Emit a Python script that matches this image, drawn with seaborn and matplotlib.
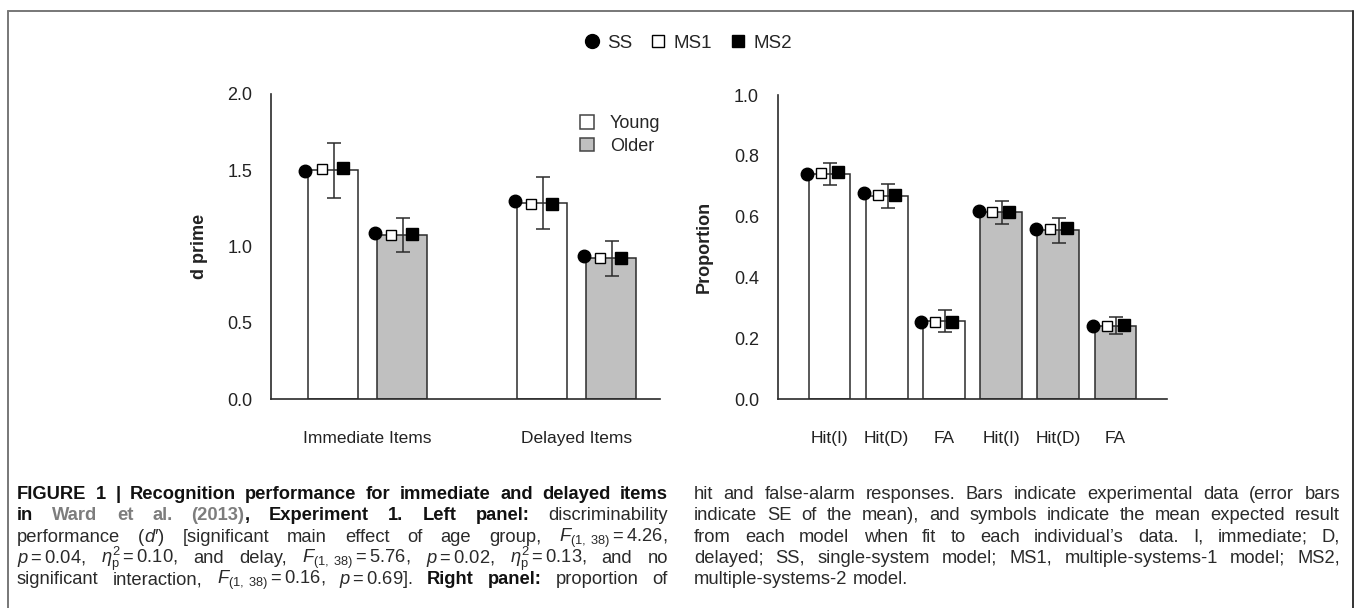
import matplotlib
matplotlib.use("Agg")
import matplotlib.pyplot as plt
from matplotlib.lines import Line2D
from matplotlib.patches import Patch
import seaborn as sns
import pandas as pd

# ---- data ----
delays = ["Immediate Items", "Immediate Items", "Delayed Items", "Delayed Items"]
ages = ["Young", "Older", "Young", "Older"]
dprime = [1.50, 1.075, 1.283, 0.922]
dprime_se = [0.18, 0.11, 0.17, 0.115]
dprime_ss = [1.497, 1.087, 1.298, 0.940]
dprime_ms1 = [1.506, 1.075, 1.281, 0.922]
dprime_ms2 = [1.512, 1.080, 1.279, 0.927]

cond_keys = ["Y Hit(I)", "Y Hit(D)", "Y FA", "O Hit(I)", "O Hit(D)", "O FA"]
cond_labels = ["Hit(I)", "Hit(D)", "FA", "Hit(I)", "Hit(D)", "FA"]
cond_ages = ["Young", "Young", "Young", "Older", "Older", "Older"]
prop = [0.741, 0.668, 0.257, 0.615, 0.555, 0.242]
prop_se = [0.036, 0.038, 0.037, 0.038, 0.042, 0.028]
prop_ss = [0.742, 0.677, 0.255, 0.620, 0.560, 0.240]
prop_ms1 = [0.745, 0.670, 0.255, 0.617, 0.560, 0.240]
prop_ms2 = [0.748, 0.672, 0.254, 0.617, 0.562, 0.243]

W, H = 1355, 608
DARK = "#2b2b2b"
palette = {"Young": "white", "Older": "#c0c0c0"}

sns.set_style("white")
plt.rcParams["font.family"] = ["Liberation Sans", "DejaVu Sans"]
plt.rcParams["mathtext.fontset"] = "custom"
plt.rcParams["mathtext.rm"] = "Liberation Sans"
plt.rcParams["mathtext.it"] = "Liberation Sans:italic"
plt.rcParams["mathtext.bf"] = "Liberation Sans:bold"

fig = plt.figure(figsize=(W / 100, H / 100), dpi=100)


def px_axes(x0, y_top, x1, y_bot):
    return fig.add_axes([x0 / W, 1 - y_bot / H, (x1 - x0) / W, (y_bot - y_top) / H])


def style_axes(ax):
    sns.despine(ax=ax)
    for s in ["left", "bottom"]:
        ax.spines[s].set_color(DARK)
        ax.spines[s].set_linewidth(1.2)
    ax.tick_params(axis="y", length=6.5, width=1.1, color=DARK, pad=7,
                   labelsize=13, labelcolor="#222")
    ax.tick_params(axis="x", length=0, pad=23, labelsize=12.5, labelcolor="#222")
    ax.set_xlabel("")


def add_models(ax, ss, ms1, ms2, se):
    bars = sorted([p for p in ax.patches if p.get_height() > 0], key=lambda p: p.get_x())
    for i, b in enumerate(bars):
        w = b.get_width()
        xc = b.get_x() + w / 2
        ax.errorbar(xc + 0.02 * w, b.get_height(), yerr=se[i], fmt="none",
                    ecolor=DARK, elinewidth=1.1, capsize=5, capthick=1.1, zorder=4)
        ax.plot(xc - 0.54 * w, ss[i], "o", color="black", ms=9, zorder=6, clip_on=False)
        ax.plot(xc - 0.21 * w, ms1[i], "s", mfc="white", mec="black", mew=1.0, ms=7.5, zorder=6)
        ax.plot(xc + 0.20 * w, ms2[i], "s", color="black", ms=8, zorder=6)


# ---- left panel ----
left = pd.DataFrame({"delay": delays, "age": ages, "dprime": dprime})
ax1 = px_axes(271, 94, 660, 399)
sns.barplot(data=left, x="delay", y="dprime", hue="age", palette=palette,
            order=["Immediate Items", "Delayed Items"], hue_order=["Young", "Older"],
            width=0.66, gap=0.27, errorbar=None, edgecolor=DARK, linewidth=1.1,
            legend=False, ax=ax1)
add_models(ax1, dprime_ss, dprime_ms1, dprime_ms2, dprime_se)
ax1.set_ylim(0, 2.0)
ax1.set_xlim(-0.46, 1.40)
ax1.set_yticks([0, 0.5, 1.0, 1.5, 2.0])
ax1.set_yticklabels(["0.0", "0.5", "1.0", "1.5", "2.0"])
style_axes(ax1)
ax1.set_ylabel("d prime", fontsize=13, fontweight="bold", color="#222")
ax1.yaxis.set_label_coords(-0.162, 0.5)
ax1.legend(handles=[Patch(facecolor="white", edgecolor="#444", linewidth=1.1),
                    Patch(facecolor="#c0c0c0", edgecolor="#444", linewidth=1.1)],
           labels=["Young", "Older"], loc="upper left", bbox_to_anchor=(0.795, 0.93),
           frameon=False, fontsize=13, handlelength=0.75, handleheight=0.75,
           handletextpad=0.9, labelspacing=0.3, borderpad=0, borderaxespad=0)

# ---- right panel ----
right = pd.DataFrame({"cond": cond_keys, "age": cond_ages, "prop": prop})
ax2 = px_axes(777.7, 95, 1166.7, 399.3)
sns.barplot(data=right, x="cond", y="prop", hue="age", palette=palette, order=cond_keys,
            dodge=False, width=0.73, errorbar=None, edgecolor=DARK, linewidth=1.1,
            legend=False, ax=ax2)
add_models(ax2, prop_ss, prop_ms1, prop_ms2, prop_se)
ax2.set_ylim(0, 1.0)
ax2.set_xlim(-0.906, 5.895)
ax2.set_yticks([0, 0.2, 0.4, 0.6, 0.8, 1.0])
ax2.set_yticklabels(["0.0", "0.2", "0.4", "0.6", "0.8", "1.0"])
ax2.set_xticks(range(len(cond_labels)))
ax2.set_xticklabels(cond_labels)
style_axes(ax2)
ax2.set_ylabel("Proportion", fontsize=13, fontweight="bold", color="#222")
ax2.yaxis.set_label_coords(-0.166, 0.5)

# ---- model legend on top ----
model_handles = [
    Line2D([], [], ls="", marker="o", color="black", ms=10),
    Line2D([], [], ls="", marker="s", mfc="white", mec="black", mew=1.0, ms=9),
    Line2D([], [], ls="", marker="s", color="black", ms=9),
]
fig.legend(model_handles, ["SS", "MS1", "MS2"], loc="center", ncol=3,
           bbox_to_anchor=(688 / W, 1 - 43 / H), frameon=False, fontsize=13.5,
           handlelength=0.8, handletextpad=0.4, columnspacing=1.0)

# ---- frame ----
fc = "#777777"
fig.add_artist(Line2D([8 / W, 8 / W], [0, 1 - 11 / H], color=fc, lw=1.4))
fig.add_artist(Line2D([8 / W, 1353 / W], [1 - 11 / H, 1 - 11 / H], color=fc, lw=1.4))
fig.add_artist(Line2D([1353 / W, 1353 / W], [0, 1 - 11 / H], color="#333", lw=1.4))

# ---- caption ----
renderer = fig.canvas.get_renderer()
CAP = 13.2
STY = {"b": dict(fontweight="bold", color="#111"),
       "r": dict(color="#2a2a2a"),
       "i": dict(style="italic", color="#2a2a2a"),
       "l": dict(fontweight="bold", color="#7d7d7d")}


def put_line(x0, x1, y, line, justify=True):
    words = []
    for txt, sty in line:
        for i, w in enumerate(txt.split(" ")):
            if w:
                words.append((w, sty, i > 0))
    arts = []
    for w, sty, sp in words:
        t = fig.text(0, 1 - y / H, w, fontsize=CAP, va="baseline", ha="left", **STY[sty])
        arts.append((t, t.get_window_extent(renderer).width, sp))
    n_sp = sum(1 for a in arts[1:] if a[2])
    total = sum(a[1] for a in arts)
    gap = (x1 - x0 - total) / n_sp if (justify and n_sp) else CAP * 100 / 72 * 0.28
    x = x0
    for k, (t, wd, sp) in enumerate(arts):
        if k > 0 and sp:
            x += gap
        t.set_x(x / W)
        x += wd


F = r"$F_{(1,\;38)}"
ETA = r"$\eta^2_{\mathrm{p}}"
left_lines = [
    [("FIGURE 1 | Recognition performance for immediate and delayed items", "b")],
    [("in", "b"), (" Ward et al. (2013)", "l"), (", Experiment 1. Left panel:", "b"),
     (" discriminability", "r")],
    [("performance (", "r"), ("d\u2032", "i"),
     (") [significant main effect of age group, " + F + r"=4.26$,", "r")],
    [(r"$p=0.04$, " + ETA + r"=0.10$, and delay, " + F + r"=5.76$, $p=0.02$, "
      + ETA + r"=0.13$, and no", "r")],
    [("significant interaction, " + F + r"=0.16$, $p=0.69$].", "r"), (" Right panel:", "b"),
     (" proportion of", "r")],
]
right_lines = [
    [("hit and false-alarm responses. Bars indicate experimental data (error bars", "r")],
    [("indicate SE of the mean), and symbols indicate the mean expected result", "r")],
    [("from each model when fit to each individual\u2019s data. I, immediate; D,", "r")],
    [("delayed; SS, single-system model; MS1, multiple-systems-1 model; MS2,", "r")],
    [("multiple-systems-2 model.", "r")],
]
for k, ln in enumerate(left_lines):
    put_line(17, 668, 499 + 21.3 * k, ln)
for k, ln in enumerate(right_lines):
    put_line(694, 1340, 499 + 21.3 * k, ln, justify=(k < len(right_lines) - 1))

fig.savefig("out.png", dpi=100)
